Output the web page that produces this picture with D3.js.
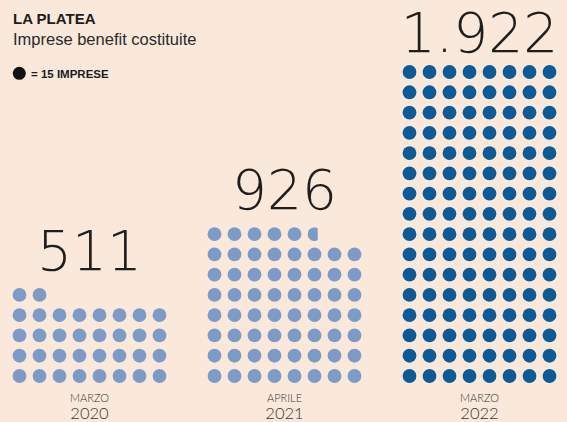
<!DOCTYPE html>
<html>
<head>
<meta charset="utf-8">
<script src="https://cdn.jsdelivr.net/npm/d3@7"></script>
<style>
  html, body { margin: 0; padding: 0; background: #fae9da; }
  svg { display: block; }
</style>
</head>
<body>
<div id="chart"></div>
<script>
// ---- data ----
const categories = ["MARZO 2020", "APRILE 2021", "MARZO 2022"];
const monthLabels = ["MARZO", "APRILE", "MARZO"];
const yearLabels = ["2020", "2021", "2022"];
const values = [511, 926, 1922];
const valueLabels = ["511", "926", "1.922"];
const dotColors = ["#7d9bc7", "#7d9bc7", "#0e5a97"];
const perDot = 15;
const dotsPerRow = 8;

// ---- layout ----
const W = 567, H = 422;
const svg = d3.select("#chart").append("svg").attr("width", W).attr("height", H);
svg.append("rect").attr("width", W).attr("height", H).attr("fill", "#fae9da");

// header
svg.append("text").attr("x", 13).attr("y", 24)
  .attr("font-family", "Liberation Sans, Arial, sans-serif").attr("font-weight", 700)
  .attr("font-size", 15).attr("fill", "#1c1c1c").text("LA PLATEA");
svg.append("text").attr("x", 13).attr("y", 45)
  .attr("font-family", "Liberation Sans, Arial, sans-serif")
  .attr("font-size", 16.5).attr("fill", "#2a2a2a").text("Imprese benefit costituite");
svg.append("circle").attr("cx", 19.3).attr("cy", 73.3).attr("r", 6.5).attr("fill", "#111");
svg.append("text").attr("x", 31).attr("y", 77.5)
  .attr("font-family", "Liberation Sans, Arial, sans-serif").attr("font-weight", 700)
  .attr("font-size", 11.5).attr("fill", "#1c1c1c").text("= 15 IMPRESE");

// scales
const xPanel = d3.scalePoint().domain(categories).range([89.5, 479.5]);
const xCol = d3.scaleLinear().domain([0, dotsPerRow - 1]).range([-70, 70]);
const yRow = d3.scaleLinear().domain([0, 15]).range([376, 72]);
const r = 6.9;

const defs = svg.append("defs");

categories.forEach((cat, k) => {
  const cx = xPanel(cat);
  const g = svg.append("g");
  const n = values[k] / perDot;
  const full = Math.floor(n);
  const frac = n - full;
  const dots = d3.range(full).map(i => ({ i, w: 1 }));
  if (frac >= 0.2) dots.push({ i: full, w: frac });
  dots.forEach(d => {
    const row = Math.floor(d.i / dotsPerRow);
    const col = d.i % dotsPerRow;
    const x = cx + xCol(col), y = yRow(row);
    const c = g.append("circle").attr("cx", x).attr("cy", y).attr("r", r).attr("fill", dotColors[k]);
    if (d.w < 1) {
      const id = "clip" + k;
      defs.append("clipPath").attr("id", id).append("rect")
        .attr("x", x - r).attr("y", y - r).attr("width", 2 * r * d.w).attr("height", 2 * r);
      c.attr("clip-path", `url(#${id})`);
    }
  });
  const topRow = Math.floor((dots.length - 1) / dotsPerRow);
  const ny = Math.max(yRow(topRow) - 25, 52);
  g.append("text").attr("x", cx).attr("y", ny).attr("text-anchor", "middle")
    .attr("font-family", "DejaVu Sans, sans-serif").attr("font-weight", 200)
    .attr("font-size", 55).attr("fill", "#1e1e1e")
    .text(valueLabels[k]);
  g.append("text").attr("x", cx).attr("y", 401.5).attr("text-anchor", "middle")
    .attr("font-family", "Lato, Open Sans, sans-serif").attr("font-weight", 300)
    .attr("font-size", 11).attr("fill", "#333").text(monthLabels[k]);
  g.append("text").attr("x", cx).attr("y", 418.5).attr("text-anchor", "middle")
    .attr("font-family", "Lato, Open Sans, sans-serif").attr("font-weight", 300)
    .attr("font-size", 16.5).attr("fill", "#333").text(yearLabels[k]);
});
</script>
</body>
</html>
